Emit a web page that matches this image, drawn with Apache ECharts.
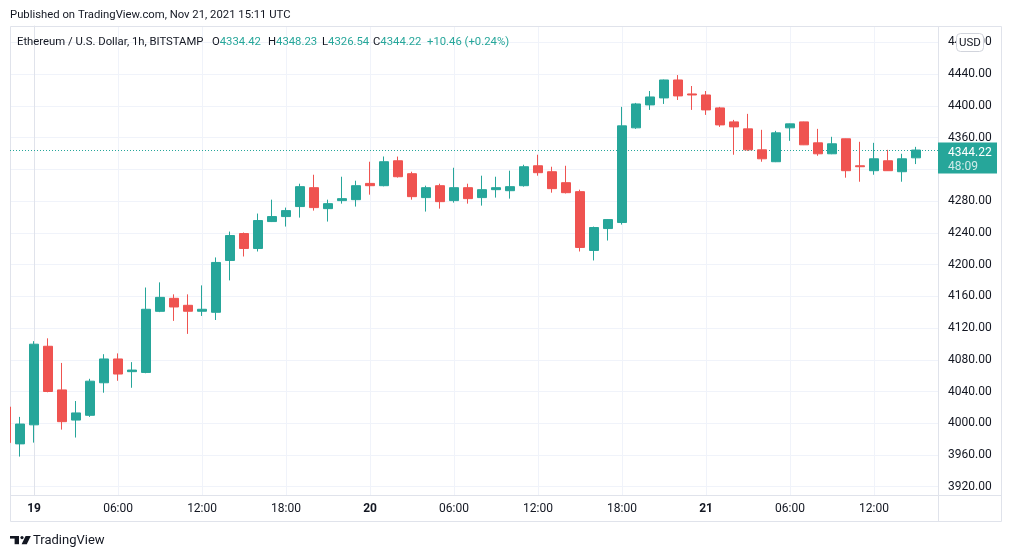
<!DOCTYPE html>
<html>
<head>
<meta charset="utf-8">
<title>Ethereum / U.S. Dollar, 1h</title>
<script src="https://cdn.jsdelivr.net/npm/echarts@6/dist/echarts.min.js"></script>
<style>
  html, body { margin: 0; padding: 0; background: #fff; }
  #chart { width: 1012px; height: 558px; }
</style>
</head>
<body>
<div id="chart"></div>
<script>
// Hourly candles, BITSTAMP ETH/USD.
const times = [
  '2021-11-18 22:00', '2021-11-18 23:00',
  '2021-11-19 00:00', '2021-11-19 01:00', '2021-11-19 02:00', '2021-11-19 03:00', '2021-11-19 04:00', '2021-11-19 05:00',
  '2021-11-19 06:00', '2021-11-19 07:00', '2021-11-19 08:00', '2021-11-19 09:00', '2021-11-19 10:00', '2021-11-19 11:00',
  '2021-11-19 12:00', '2021-11-19 13:00', '2021-11-19 14:00', '2021-11-19 15:00', '2021-11-19 16:00', '2021-11-19 17:00',
  '2021-11-19 18:00', '2021-11-19 19:00', '2021-11-19 20:00', '2021-11-19 21:00', '2021-11-19 22:00', '2021-11-19 23:00',
  '2021-11-20 00:00', '2021-11-20 01:00', '2021-11-20 02:00', '2021-11-20 03:00', '2021-11-20 04:00', '2021-11-20 05:00',
  '2021-11-20 06:00', '2021-11-20 07:00', '2021-11-20 08:00', '2021-11-20 09:00', '2021-11-20 10:00', '2021-11-20 11:00',
  '2021-11-20 12:00', '2021-11-20 13:00', '2021-11-20 14:00', '2021-11-20 15:00', '2021-11-20 16:00', '2021-11-20 17:00',
  '2021-11-20 18:00', '2021-11-20 19:00', '2021-11-20 20:00', '2021-11-20 21:00', '2021-11-20 22:00', '2021-11-20 23:00',
  '2021-11-21 00:00', '2021-11-21 01:00', '2021-11-21 02:00', '2021-11-21 03:00', '2021-11-21 04:00', '2021-11-21 05:00',
  '2021-11-21 06:00', '2021-11-21 07:00', '2021-11-21 08:00', '2021-11-21 09:00', '2021-11-21 10:00', '2021-11-21 11:00',
  '2021-11-21 12:00', '2021-11-21 13:00', '2021-11-21 14:00', '2021-11-21 15:00'
];
const opens = [
  4020.5, 3974.0,
  3998.0, 4097.0, 4042.0, 4004.0, 4010.0, 4051.0,
  4081.0, 4065.0, 4064.0, 4141.0, 4157.4, 4148.6,
  4141.1, 4139.8, 4205.1, 4239.0, 4220.2, 4254.1,
  4260.4, 4273.0, 4296.8, 4270.4, 4280.5, 4281.7,
  4302.2, 4299.3, 4330.7, 4314.4, 4284.3, 4299.3,
  4280.5, 4296.8, 4284.3, 4294.3, 4293.0, 4299.3,
  4324.4, 4316.9, 4303.1, 4291.8, 4217.7, 4245.3,
  4252.9, 4372.2, 4401.1, 4409.9, 4432.5, 4414.9,
  4413.6, 4397.3, 4379.7, 4370.9, 4344.5, 4329.5,
  4372.2, 4379.7, 4353.3, 4339.5, 4358.4, 4324.4,
  4318.2, 4330.7, 4316.9, 4334.42
];
const closes = [
  3975.6, 3999.0,
  4099.6, 4040.0, 4002.0, 4013.0, 4053.0, 4081.0,
  4062.0, 4067.0, 4143.6, 4158.6, 4146.5, 4141.1,
  4143.6, 4202.6, 4236.5, 4220.2, 4255.4, 4260.4,
  4267.9, 4298.1, 4271.7, 4276.7, 4283.0, 4299.3,
  4299.3, 4329.5, 4310.6, 4285.5, 4296.8, 4279.2,
  4296.8, 4283.0, 4294.3, 4296.8, 4298.1, 4323.2,
  4315.7, 4295.6, 4290.5, 4221.5, 4246.6, 4256.6,
  4374.7, 4402.3, 4411.1, 4432.5, 4412.4, 4413.6,
  4394.8, 4375.9, 4373.4, 4344.5, 4333.2, 4365.9,
  4377.2, 4350.8, 4339.5, 4352.1, 4318.2, 4323.2,
  4333.2, 4318.2, 4333.2, 4344.22
];
const lows = [
  3970.0, 3958.0,
  3975.6, 4039.0, 3992.0, 3982.0, 4008.0, 4038.5,
  4053.5, 4044.7, 4063.0, 4140.0, 4129.0, 4112.6,
  4135.2, 4130.1, 4180.0, 4210.1, 4216.4, 4253.5,
  4247.8, 4259.1, 4267.9, 4254.1, 4276.7, 4273.0,
  4288.0, 4298.5, 4309.5, 4281.7, 4266.7, 4270.4,
  4278.0, 4276.7, 4274.2, 4284.3, 4283.0, 4298.1,
  4311.9, 4290.5, 4289.5, 4216.4, 4205.1, 4230.2,
  4250.3, 4370.9, 4394.8, 4402.3, 4407.3, 4394.8,
  4388.5, 4373.4, 4338.3, 4343.3, 4329.5, 4329.0,
  4355.8, 4350.5, 4337.0, 4339.0, 4309.4, 4304.3,
  4313.1, 4317.9, 4304.3, 4326.54
];
const highs = [
  4030.0, 4008.0,
  4103.4, 4107.0, 4076.0, 4028.0, 4056.0, 4087.0,
  4088.0, 4077.0, 4171.0, 4177.5, 4162.4, 4162.4,
  4173.7, 4208.9, 4241.5, 4240.3, 4264.2, 4281.7,
  4271.7, 4301.8, 4313.1, 4281.7, 4310.6, 4305.6,
  4329.5, 4336.1, 4336.0, 4316.9, 4299.3, 4301.8,
  4321.9, 4301.8, 4311.9, 4310.6, 4318.2, 4325.7,
  4338.3, 4323.2, 4324.4, 4294.3, 4247.8, 4257.0,
  4398.6, 4403.6, 4418.6, 4433.0, 4438.7, 4424.9,
  4418.6, 4398.6, 4382.2, 4389.8, 4369.7, 4368.4,
  4377.5, 4380.0, 4370.9, 4360.9, 4358.6, 4354.6,
  4353.3, 4344.5, 4339.5, 4348.23
];

// Axis ticks
const timeTicks = [
  '2021-11-19 00:00', '2021-11-19 06:00', '2021-11-19 12:00', '2021-11-19 18:00',
  '2021-11-20 00:00', '2021-11-20 06:00', '2021-11-20 12:00', '2021-11-20 18:00',
  '2021-11-21 00:00', '2021-11-21 06:00', '2021-11-21 12:00'
];
const priceTicks = [3920, 3960, 4000, 4040, 4080, 4120, 4160, 4200, 4240, 4280, 4320, 4360, 4400, 4440, 4480];

const UP = '#26a69a';
const DOWN = '#ef5350';
const TEXT = '#131722';
const GRID = '#f0f3fa';
const BORDER = '#e0e3eb';
const FONT = 'Roboto, "Noto Sans", sans-serif';

const ORIGIN = Date.parse('2021-11-19T00:00:00Z');

function hourOffset(t) {
  return (Date.parse(t.replace(' ', 'T') + ':00Z') - ORIGIN) / 3600000;
}

function timeLabel(hours) {
  const d = new Date(ORIGIN + hours * 3600000);
  const hh = d.getUTCHours();
  if (hh === 0) return `{day|${d.getUTCDate()}}`;
  return `${String(hh).padStart(2, '0')}:00`;
}

const candleData = times.map((t, i) => [hourOffset(t), opens[i], closes[i], lows[i], highs[i]]);
const lastClose = closes[closes.length - 1];
const tickHours = timeTicks.map(hourOffset);

// visible window (the first candle is cut by the left edge, room on the right)
const xMin = -1.72;
const xMax = 64.57;
const yMin = 3909.6;
const yMax = 4500.5;

const chart = echarts.init(document.getElementById('chart'), null, { renderer: 'canvas' });

const headerText = (id, x, text, fill) => ({
  type: 'text', id, x, y: 42, z: 60, silent: true,
  style: { text, fill, font: `11.3px ${FONT}`, verticalAlign: 'middle' }
});

const ohlcItems = [
  ['O', opens[opens.length - 1].toFixed(2), 212],
  ['H', highs[highs.length - 1].toFixed(2), 268],
  ['L', lows[lows.length - 1].toFixed(2), 322],
  ['C', lastClose.toFixed(2), 373]
];

const option = {
  animation: false,
  backgroundColor: '#ffffff',
  textStyle: { fontFamily: FONT },
  grid: { left: 10, right: 74, top: 26, bottom: 63, show: false },
  xAxis: {
    type: 'value',
    min: xMin,
    max: xMax,
    axisLine: { show: true, onZero: false, lineStyle: { color: BORDER } },
    axisTick: { show: false, customValues: tickHours },
    axisLabel: {
      customValues: tickHours,
      formatter: timeLabel,
      margin: 8,
      color: TEXT,
      fontSize: 12,
      fontFamily: FONT,
      rich: { day: { fontWeight: 'bold', fontSize: 12, color: TEXT, fontFamily: FONT } }
    },
    splitLine: { show: true, lineStyle: { color: GRID, width: 1 } }
  },
  yAxis: {
    type: 'value',
    position: 'right',
    min: yMin,
    max: yMax,
    axisLine: { show: true, lineStyle: { color: BORDER } },
    axisTick: { show: false, customValues: priceTicks },
    axisLabel: {
      customValues: priceTicks,
      formatter: (v) => v.toFixed(2),
      margin: 10,
      color: TEXT,
      fontSize: 12,
      fontFamily: FONT
    },
    splitLine: { show: true, lineStyle: { color: GRID, width: 1 } }
  },
  series: [
    {
      type: 'candlestick',
      data: candleData,
      encode: { x: 0, y: [1, 2, 3, 4] },
      barWidth: 10,
      clip: true,
      z: 5,
      itemStyle: {
        color: UP,
        color0: DOWN,
        borderColor: UP,
        borderColor0: DOWN,
        borderWidth: 1
      },
      markLine: {
        silent: true,
        symbol: 'none',
        animation: false,
        label: { show: false },
        lineStyle: { color: UP, type: [1, 2], width: 1, opacity: 1 },
        data: [{ yAxis: lastClose }]
      }
    }
  ],
  graphic: {
    elements: [
      // mask for the part of the first candle that falls left of the pane
      { type: 'rect', id: 'mask', z: 40, silent: true, shape: { x: 0, y: 20, width: 10, height: 480 }, style: { fill: '#ffffff' } },
      // outer frame and separators (below the candles)
      { type: 'rect', id: 'frame', z: 1, silent: true, shape: { x: 10.5, y: 26.5, width: 991, height: 495 }, style: { fill: null, stroke: BORDER, lineWidth: 1 } },
      { type: 'line', id: 'sepV', z: 1, silent: true, shape: { x1: 938.5, y1: 26, x2: 938.5, y2: 522 }, style: { stroke: BORDER, lineWidth: 1 } },
      { type: 'line', id: 'sepH', z: 1, silent: true, shape: { x1: 10, y1: 495.5, x2: 1002, y2: 495.5 }, style: { stroke: BORDER, lineWidth: 1 } },
      // header
      {
        type: 'text', id: 'published', x: 10, y: 15, z: 60, silent: true,
        style: { text: 'Published on TradingView.com, Nov 21, 2021 15:11 UTC', fill: TEXT, font: `11.3px ${FONT}`, verticalAlign: 'middle' }
      },
      headerText('symbol', 17, 'Ethereum / U.S. Dollar, 1h, BITSTAMP', TEXT),
      ...ohlcItems.map(([k, v, x]) => ({
        type: 'text', id: 'ohlc' + k, x, y: 42, z: 60, silent: true,
        style: {
          text: `{k|${k}}{v|${v}}`,
          verticalAlign: 'middle',
          rich: {
            k: { fill: TEXT, font: `11.3px ${FONT}` },
            v: { fill: UP, font: `11.3px ${FONT}` }
          }
        }
      })),
      headerText('change', 427, '+10.46 (+0.24%)', UP),
      // currency badge over the top price label
      { type: 'rect', id: 'usdBox', z: 80, silent: true, shape: { x: 956.5, y: 33.5, width: 27, height: 18, r: 4 }, style: { fill: '#ffffff', stroke: '#d1d4dc', lineWidth: 1 } },
      { type: 'text', id: 'usdText', z: 81, silent: true, x: 970, y: 43, style: { text: 'USD', fill: TEXT, font: `11.5px ${FONT}`, align: 'center', verticalAlign: 'middle' } },
      // footer logo
      { type: 'rect', id: 'logo1', z: 60, silent: true, shape: { x: 10, y: 536, width: 9, height: 2.6 }, style: { fill: TEXT } },
      { type: 'rect', id: 'logo2', z: 60, silent: true, shape: { x: 14.6, y: 536, width: 4.4, height: 8.2 }, style: { fill: TEXT } },
      { type: 'circle', id: 'logo3', z: 60, silent: true, shape: { cx: 22, cy: 537.6, r: 1.6 }, style: { fill: TEXT } },
      { type: 'polygon', id: 'logo4', z: 60, silent: true, shape: { points: [[25.6, 536], [30.8, 536], [26.8, 544.2], [21.6, 544.2]] }, style: { fill: TEXT } },
      {
        type: 'text', id: 'logoText', x: 33, y: 540.5, z: 60, silent: true,
        style: { text: 'TradingView', fill: TEXT, font: `13px ${FONT}`, verticalAlign: 'middle' }
      }
    ]
  }
};

chart.setOption(option);

// last price tag on the price scale, placed through the axis scale
const tagY = chart.convertToPixel({ yAxisIndex: 0 }, lastClose);
chart.setOption({
  graphic: {
    elements: [
      { type: 'rect', id: 'tagBox', z: 90, silent: true, shape: { x: 938, y: tagY - 7.5, width: 59, height: 31 }, style: { fill: UP } },
      { type: 'text', id: 'tagPrice', z: 91, silent: true, x: 948, y: tagY + 2.5, style: { text: lastClose.toFixed(2), fill: '#ffffff', font: `12px ${FONT}`, verticalAlign: 'middle' } },
      { type: 'text', id: 'tagTimer', z: 91, silent: true, x: 948, y: tagY + 16.5, style: { text: '48:09', fill: 'rgba(255,255,255,0.78)', font: `12px ${FONT}`, verticalAlign: 'middle' } }
    ]
  }
});

window.addEventListener('resize', () => chart.resize());
</script>
</body>
</html>
